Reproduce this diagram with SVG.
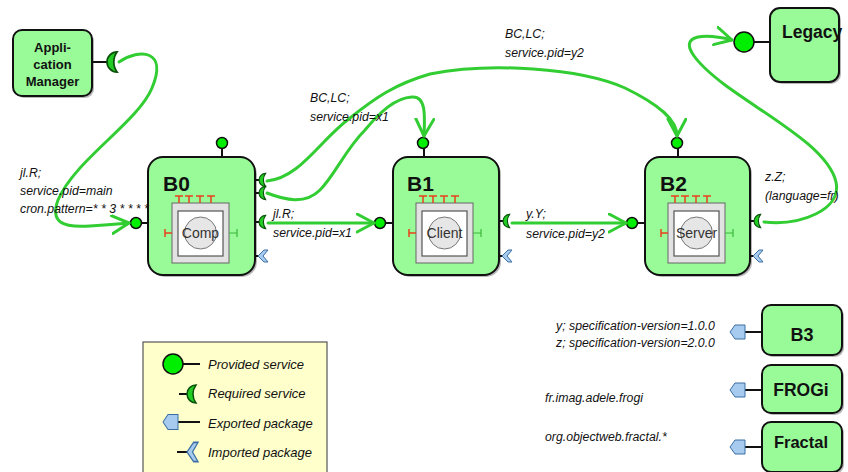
<svg xmlns="http://www.w3.org/2000/svg" width="848" height="472" viewBox="0 0 848 472">
<defs>
<style>
.box{fill:#98fb98;stroke:#111;stroke-width:2}
.sh{fill:#b8b8b8}
.t{font-family:"Liberation Sans",Arial,sans-serif;fill:#111}
.b{font-weight:bold}
.i{font-style:italic;font-size:12.3px}
.stub{stroke:#111;stroke-width:2;fill:none}
.prov{fill:#00ee00;stroke:#111;stroke-width:1.5}
.req{fill:#22cc22;stroke:#0a500a;stroke-width:1}
.pkg{fill:#a6cbef;stroke:#3d6ea3;stroke-width:1}
.conn{fill:none;stroke:#32cd32;stroke-width:3;stroke-linecap:round;stroke-linejoin:round}
.cOut{fill:#e2e2e2;stroke:#666;stroke-width:1}
.cIn{fill:#fff;stroke:#555;stroke-width:1.2}
.cC{fill:#e6e6e6;stroke:#777;stroke-width:1}
.red{stroke:#e8401c;stroke-width:1.5;fill:none}
.grn{stroke:#3cb83c;stroke-width:1.2;fill:none}
.cn{font-family:"Liberation Sans",Arial,sans-serif;font-size:14px;fill:#333;text-anchor:middle}
.lg{fill:#ffffcc;stroke:#555;stroke-width:1.2}
</style>
<path id="cres" class="req" d="M6,-6 A6,6 0 0 0 6,6 A10,10 0 0 1 6,-6 Z"/>
<polygon id="exp" class="pkg" points="0,0 5,-7 15,-7 15,7 5,7"/>
<polygon id="imp" class="pkg" points="0,0 6,-6 10,-6 5,0 10,6 6,6"/>
<g id="comp">
<rect class="cOut" x="0" y="0" width="57" height="60"/>
<rect class="cIn" x="6" y="8" width="45" height="45"/>
<circle class="cC" cx="28.5" cy="30" r="16"/>
<path class="red" d="M7,-7V0M3,-7H11M17,-7V0M13,-7H21M28,-7V0M24,-7H32M39,-7V0M35,-7H43M-7,30H0M-7,26V34"/>
<path class="grn" d="M57,30H65M65,26V34"/>
</g>
<marker id="ah" markerUnits="userSpaceOnUse" markerWidth="22" markerHeight="22" refX="18" refY="10" orient="auto"><path d="M1,1 L18,10 L1,19" fill="none" stroke="#32cd32" stroke-width="3" stroke-linecap="round" stroke-linejoin="round"/></marker>
</defs>
<rect width="848" height="472" fill="#fff"/>

<g id="appmanager">
<rect class="sh" x="15" y="32" width="79" height="66" rx="9"/>
<rect class="box" x="13" y="30" width="79" height="66" rx="9"/>
<text class="t b" font-size="13" text-anchor="middle"><tspan x="52.5" y="52">Appli-</tspan><tspan x="52.5" y="69">cation</tspan><tspan x="52.5" y="86">Manager</tspan></text>
<line class="stub" x1="92" y1="62" x2="109" y2="62"/>
<use href="#cres" transform="translate(107,62) scale(1.7)"/>
</g>

<g id="b0">
<rect class="sh" x="150" y="159" width="107" height="118" rx="15"/>
<rect class="box" x="148" y="157" width="107" height="118" rx="15"/>
<text class="t b" x="163" y="191" font-size="21">B0</text>
<use href="#comp" transform="translate(172,203)"/>
<text class="cn" x="200.5" y="238">Comp</text>
<line class="stub" x1="222" y1="148" x2="222" y2="157"/>
<circle class="prov" cx="222" cy="143" r="5.5"/>
<line class="stub" x1="141" y1="223" x2="148" y2="223"/>
<circle class="prov" cx="136" cy="223" r="5.5"/>
<path class="stub" d="M255,180H261M255,193H261M255,222H261M255,256H259"/>
<use href="#cres" transform="translate(259,180) scale(1.1)"/>
<use href="#cres" transform="translate(259,193) scale(1.1)"/>
<use href="#cres" transform="translate(259,222) scale(1.1)"/>
<use href="#imp" transform="translate(258,256)"/>
</g>

<g id="b1">
<rect class="sh" x="395" y="159" width="106" height="118" rx="15"/>
<rect class="box" x="393" y="157" width="106" height="118" rx="15"/>
<text class="t b" x="407" y="191" font-size="21">B1</text>
<use href="#comp" transform="translate(416,203)"/>
<text class="cn" x="444.5" y="238">Client</text>
<line class="stub" x1="424" y1="148" x2="424" y2="157"/>
<circle class="prov" cx="423" cy="143" r="5.5"/>
<line class="stub" x1="385" y1="223" x2="393" y2="223"/>
<circle class="prov" cx="380" cy="223" r="5.5"/>
<path class="stub" d="M499,221H505M499,256H503"/>
<use href="#cres" transform="translate(503,221) scale(1.1)"/>
<use href="#imp" transform="translate(502,256)"/>
</g>

<g id="b2">
<rect class="sh" x="647" y="159" width="105" height="118" rx="15"/>
<rect class="box" x="645" y="157" width="105" height="118" rx="15"/>
<text class="t b" x="660" y="191" font-size="21">B2</text>
<use href="#comp" transform="translate(668,203)"/>
<text class="cn" x="696.5" y="238">Server</text>
<line class="stub" x1="678" y1="148" x2="678" y2="157"/>
<circle class="prov" cx="677" cy="143" r="5.5"/>
<line class="stub" x1="637" y1="223" x2="645" y2="223"/>
<circle class="prov" cx="632" cy="223" r="5.5"/>
<path class="stub" d="M750,221H756M750,256H754"/>
<use href="#cres" transform="translate(754,221) scale(1.1)"/>
<use href="#imp" transform="translate(753,256)"/>
</g>

<g id="legacy">
<rect class="sh" x="772" y="10" width="69" height="74" rx="10"/>
<rect class="box" x="770" y="8" width="69" height="74" rx="10"/>
<text class="t b" x="782" y="38" font-size="17.5">Legacy</text>
<line class="stub" x1="754" y1="42" x2="770" y2="42"/>
<circle class="prov" cx="744" cy="42" r="10"/>
</g>

<g id="b3">
<rect class="sh" x="764" y="307" width="80" height="50" rx="9"/>
<rect class="box" x="762" y="305" width="80" height="50" rx="9"/>
<text class="t b" x="802" y="341" font-size="18" text-anchor="middle">B3</text>
<line class="stub" x1="745" y1="332" x2="762" y2="332"/>
<use href="#exp" transform="translate(730,332)"/>
</g>

<g id="frogi">
<rect class="sh" x="764" y="367" width="80" height="48" rx="9"/>
<rect class="box" x="762" y="365" width="80" height="48" rx="9"/>
<text class="t b" x="801" y="396" font-size="17.5" text-anchor="middle">FROGi</text>
<line class="stub" x1="745" y1="390" x2="762" y2="390"/>
<use href="#exp" transform="translate(730,390)"/>
</g>

<g id="fractal">
<rect class="sh" x="764" y="424" width="80" height="50" rx="9"/>
<rect class="box" x="762" y="422" width="80" height="50" rx="9"/>
<text class="t b" x="801" y="448" font-size="16.5" text-anchor="middle">Fractal</text>
<line class="stub" x1="745" y1="447" x2="762" y2="447"/>
<use href="#exp" transform="translate(730,447)"/>
</g>

<g id="connectors">
<path class="conn" marker-end="url(#ah)" d="M119,62 C140,48 168,50 152,88 C138,122 75,160 58,200 C50,222 62,228 90,226 C105,225 118,224 129,223"/>
<path class="conn" marker-end="url(#ah)" d="M267,181 C300,178 320,140 350,118 C375,98 395,84 430,74 C490,62 580,68 625,88 C660,105 677,120 677,136"/>
<path class="conn" marker-end="url(#ah)" d="M267,193 C285,200 305,205 320,190 C335,175 345,150 365,130 C380,112 395,98 412,97 C426,96 425,115 424,136"/>
<path class="conn" marker-end="url(#ah)" d="M268,223 H374"/>
<path class="conn" marker-end="url(#ah)" d="M512,223 H626"/>
<path class="conn" marker-end="url(#ah)" d="M764,222 C800,226 842,210 836,182 C828,148 770,118 725,85 C700,66 676,42 698,37 C710,35 720,37 732,40"/>
</g>

<g id="labels" class="t i">
<text x="20" y="177">jl.R;</text>
<text x="20" y="195">service.pid=main</text>
<text x="20" y="213">cron.pattern=* * 3 * * * *</text>
<text x="310" y="102">BC,LC;</text>
<text x="310" y="121">service.pid=x1</text>
<text x="505" y="38">BC,LC;</text>
<text x="505" y="57">service.pid=y2</text>
<text x="273" y="218">jl.R;</text>
<text x="273" y="237">service.pid=x1</text>
<text x="526" y="218">y.Y;</text>
<text x="526" y="238">service.pid=y2</text>
<text x="765" y="181">z.Z;</text>
<text x="765" y="200">(language=fr)</text>
<text x="556" y="330">y; specification-version=1.0.0</text>
<text x="556" y="347">z; specification-version=2.0.0</text>
<text x="545" y="402">fr.imag.adele.frogi</text>
<text x="545" y="441">org.objectweb.fractal.*</text>
</g>

<g id="legend">
<rect class="lg" x="143" y="342" width="184" height="140"/>
<line class="stub" x1="183" y1="364" x2="200" y2="364"/>
<circle class="prov" cx="173" cy="364" r="10"/>
<line class="stub" x1="179" y1="394" x2="189" y2="394"/>
<use href="#cres" transform="translate(187,394) scale(1.5)"/>
<line class="stub" x1="178" y1="422" x2="200" y2="422"/>
<use href="#exp" transform="translate(163,422) scale(1,1.07)"/>
<line class="stub" x1="177" y1="452" x2="189" y2="452"/>
<use href="#imp" transform="translate(187,452) scale(1.1,1.6)"/>
<g class="t" font-style="italic" font-size="13">
<text x="208" y="369">Provided service</text>
<text x="208" y="398">Required service</text>
<text x="208" y="428">Exported package</text>
<text x="208" y="457">Imported package</text>
</g>
</g>
</svg>
